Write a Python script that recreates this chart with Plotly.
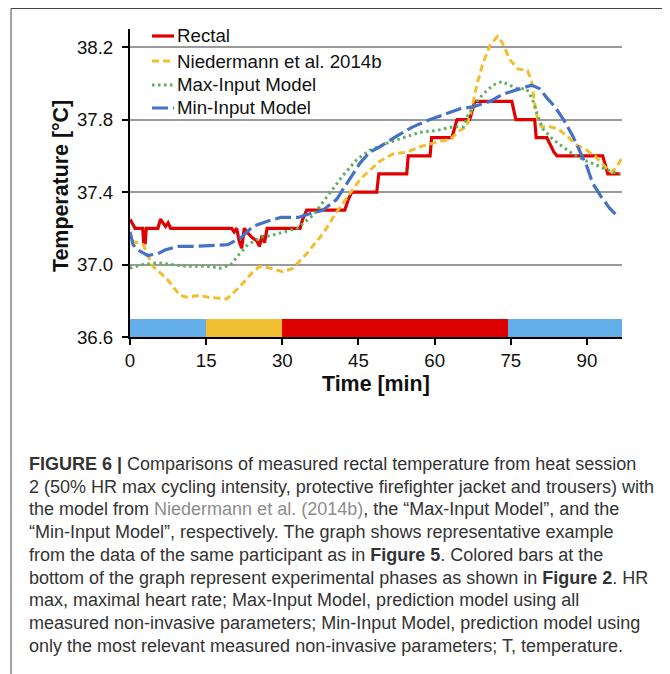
import plotly.graph_objects as go

# ---------------- data ----------------
rectal_t = [0, 0.5, 1, 2.5, 2.7, 3.0, 3.2, 5.5, 6.0, 6.5, 7.0, 7.5, 8.0, 20.0, 20.5, 21.0, 21.5, 22.0, 22.5, 23.0,
            24.0, 25.0, 25.5, 26.0, 26.5, 27.0, 33.5, 34.0, 34.8, 42.3, 43.0, 43.7, 48.6, 49.0, 54.5, 54.8, 59.1, 59.4,
            63.4, 64.4, 66.9, 67.9, 75.2, 76.0, 79.7, 80.0, 82.1, 83.5, 84.1, 93.1, 94.1, 96.6]
rectal_v = [37.25, 37.22, 37.20, 37.20, 37.12, 37.12, 37.20, 37.20, 37.25, 37.23, 37.21, 37.23, 37.20, 37.20, 37.18,
            37.20, 37.13, 37.09, 37.20, 37.18, 37.15, 37.13, 37.10, 37.16, 37.12, 37.20, 37.20, 37.25, 37.30, 37.30,
            37.36, 37.40, 37.40, 37.50, 37.50, 37.60, 37.60, 37.70, 37.70, 37.80, 37.80, 37.90, 37.90, 37.80, 37.80,
            37.70, 37.70, 37.62, 37.60, 37.60, 37.50, 37.50]

nied_t = [0.3, 2.6, 4.5, 7.3, 9.8, 11.2, 13.8, 15.2, 19.1, 21.7, 24.2, 25.6, 27.6, 30.1, 32.1, 34.8, 36.5, 38.0, 40.7,
          43.3, 45.3, 47.2, 49.2, 51.8, 54.5, 57.1, 59.6, 61.0, 63.0, 65.0, 66.3, 67.3, 68.3, 69.5, 70.9, 72.4, 73.4,
          74.8, 76.4, 78.3, 79.1, 79.7, 80.3, 81.1, 82.7, 84.3, 86.0, 88.0, 90.0, 91.9, 93.5, 94.9, 95.9, 96.9]
nied_v = [37.13, 37.11, 36.99, 36.92, 36.83, 36.82, 36.83, 36.82, 36.81, 36.88, 36.96, 36.99, 36.98, 36.96, 36.98,
          37.06, 37.12, 37.17, 37.29, 37.39, 37.47, 37.52, 37.57, 37.61, 37.62, 37.65, 37.67, 37.68, 37.69, 37.74,
          37.76, 37.86, 37.99, 38.11, 38.21, 38.26, 38.22, 38.13, 38.08, 38.07, 38.01, 37.89, 37.80, 37.76, 37.76,
          37.75, 37.71, 37.66, 37.63, 37.59, 37.54, 37.51, 37.54, 37.59]

maxin_t = [0, 2.6, 5.3, 8.5, 11.2, 15.2, 17.9, 19.9, 21.3, 23.2, 25.8, 27.8, 30.5, 32.9, 36.0, 39.4, 41.9, 44.7, 47.2,
           50.6, 53.7, 57.1, 60.4, 63.6, 65.6, 66.5, 68.3, 69.5, 71.5, 73.2, 74.8, 76.4, 78.1, 79.3, 80.3, 81.3, 83.3,
           85.2, 87.2, 90.0, 92.5, 95.1, 96.5]
maxin_v = [36.98, 37.00, 37.01, 37.00, 36.99, 36.99, 36.98, 37.00, 37.05, 37.11, 37.15, 37.16, 37.18, 37.20, 37.27,
           37.40, 37.49, 37.58, 37.63, 37.67, 37.70, 37.73, 37.74, 37.76, 37.76, 37.82, 37.90, 37.94, 37.99, 38.01,
           37.99, 37.97, 37.97, 37.91, 37.82, 37.75, 37.69, 37.65, 37.61, 37.57, 37.54, 37.51, 37.50]

minin_t = [0, 0.6, 1.6, 3.5, 5.5, 6.9, 9.4, 12.8, 19.3, 21.9, 24.2, 27.2, 29.7, 33.1, 35.4, 38.0, 40.7, 42.7, 45.3,
           47.2, 49.2, 52.6, 55.7, 59.1, 63.0, 65.0, 67.5, 70.9, 73.4, 76.8, 79.1, 80.7, 82.1, 83.7, 85.6, 87.2, 88.6,
           90.0, 91.1, 92.9, 94.5, 95.9]
minin_v = [37.18, 37.11, 37.08, 37.05, 37.06, 37.08, 37.10, 37.10, 37.11, 37.15, 37.21, 37.24, 37.26, 37.26, 37.28,
           37.30, 37.36, 37.45, 37.56, 37.62, 37.65, 37.71, 37.76, 37.80, 37.84, 37.86, 37.87, 37.90, 37.94, 37.97,
           37.99, 37.97, 37.92, 37.87, 37.79, 37.71, 37.63, 37.54, 37.45, 37.37, 37.31, 37.27]

phase_start = [0, 15, 30, 74.5]
phase_end = [15, 30, 74.5, 96.9]
phase_colors = ["#64AEEA", "#F0BE32", "#DD0000", "#64AEEA"]
phase_level = 36.65
phase_thickness = 0.1

series_names = ["Rectal", "Niedermann et al. 2014b", "Max-Input Model", "Min-Input Model"]
series_colors = ["#E00000", "#F2BE30", "#5CB05C", "#4472C4"]

x_ticks = [0, 15, 30, 45, 60, 75, 90]
y_ticks = [36.6, 37.0, 37.4, 37.8, 38.2]

x_title = "Time [min]"
y_title = "Temperature [°C]"

caption_lines = [
    "<b>FIGURE 6 |</b> Comparisons of measured rectal temperature from heat session",
    "2 (50% HR max cycling intensity, protective firefighter jacket and trousers) with",
    "the model from <span style='color:#8c8c8c'>Niedermann et al. (2014b)</span>, the \u201cMax-Input Model\u201d, and the",
    "\u201cMin-Input Model\u201d, respectively. The graph shows representative example",
    "from the data of the same participant as in <b>Figure 5</b>. Colored bars at the",
    "bottom of the graph represent experimental phases as shown in <b>Figure 2</b>. HR",
    "max, maximal heart rate; Max-Input Model, prediction model using all",
    "measured non-invasive parameters; Min-Input Model, prediction model using",
    "only the most relevant measured non-invasive parameters; T, temperature.",
]

# ---------------- layout geometry ----------------
# The page body has an 8px margin, so the figure is drawn 8px smaller and
# all positions below are given in page pixels.
OFF = 8
W, H = 670 - OFF, 674 - OFF
PLOT_L, PLOT_R, PLOT_T, PLOT_B = 130, 622, 29, 337          # page pixels
L, R, T = PLOT_L - OFF, W - (PLOT_R - OFF), PLOT_T - OFF
B = H - (PLOT_B - OFF)
PW, PH = PLOT_R - PLOT_L, PLOT_B - PLOT_T


def px(x):
    return (x - PLOT_L) / PW


def py(y):
    return (PLOT_B - y) / PH


FONT = "Liberation Sans, Arial, Helvetica, sans-serif"
INK = "#111111"

fig = go.Figure()

# phase bars
fig.add_trace(go.Bar(
    orientation="h",
    y=[phase_level] * len(phase_start),
    x=[e - s for s, e in zip(phase_start, phase_end)],
    base=phase_start,
    width=phase_thickness,
    marker=dict(color=phase_colors, line=dict(width=0)),
    showlegend=False, hoverinfo="skip",
))

dashes = ["solid", "7px,4px", "2.5px,3.5px", "16px,5px"]
widths = [3.2, 3, 3, 3.2]
series = [(rectal_t, rectal_v), (nied_t, nied_v), (maxin_t, maxin_v), (minin_t, minin_v)]
for (t, v), name, col, d, w in zip(series, series_names, series_colors, dashes, widths):
    fig.add_trace(go.Scatter(x=t, y=v, mode="lines", name=name, showlegend=False,
                             line=dict(color=col, width=w, dash=d)))

shapes = []
annotations = []

# manual legend
leg_rows = [36, 61, 85, 108]
for yy, name, col, d, w in zip(leg_rows, series_names, series_colors, dashes, widths):
    shapes.append(dict(type="line", xref="paper", yref="paper", x0=px(152), x1=px(174), y0=py(yy), y1=py(yy),
                       line=dict(color=col, width=w, dash=d)))
    annotations.append(dict(xref="paper", yref="paper", x=px(175), y=py(yy), text=name, showarrow=False,
                            xanchor="left", yanchor="middle", font=dict(family=FONT, size=18.7, color=INK)))

# axis titles
annotations.append(dict(xref="paper", yref="paper", x=px(376), y=py(384), text="<b>%s</b>" % x_title,
                        showarrow=False, xanchor="center", yanchor="middle",
                        font=dict(family=FONT, size=21.4, color=INK)))
annotations.append(dict(xref="paper", yref="paper", x=px(61), y=py(186), text="<b>%s</b>" % y_title,
                        showarrow=False, xanchor="center", yanchor="middle", textangle=-90,
                        font=dict(family=FONT, size=21.4, color=INK)))

# outer frame
shapes.append(dict(type="rect", xref="paper", yref="paper", x0=px(11), x1=px(668), y0=py(700), y1=py(8.5),
                   line=dict(color="#444444", width=1), fillcolor="rgba(0,0,0,0)", layer="below"))

# caption
cap_top = 464
cap_step = 22.7
for i, line in enumerate(caption_lines):
    annotations.append(dict(xref="paper", yref="paper", x=px(27), y=py(cap_top + i * cap_step), text=line,
                            showarrow=False, xanchor="left", yanchor="middle",
                            font=dict(family=FONT, size=18, color="#333333")))

fig.update_layout(
    width=W, height=H,
    margin=dict(l=L, r=R, t=T, b=B, pad=0, autoexpand=False),
    paper_bgcolor="white", plot_bgcolor="white",
    shapes=shapes, annotations=annotations,
    font=dict(family=FONT, color=INK),
    bargap=0,
)
fig.update_xaxes(
    range=[0, 96.9], tickvals=x_ticks, ticktext=[str(v) for v in x_ticks],
    showgrid=False, zeroline=False, showline=True, linecolor="black", linewidth=2,
    ticks="outside", ticklen=6, tickwidth=2, tickcolor="black", automargin=False,
    tickfont=dict(family=FONT, size=18.7, color=INK),
)
fig.update_yaxes(
    range=[36.6, 38.3], tickvals=y_ticks, ticktext=["%.1f" % v for v in y_ticks],
    showgrid=True, gridcolor="#9a9a9a", gridwidth=1.5, zeroline=False,
    showline=True, linecolor="black", linewidth=2, automargin=False,
    ticks="outside", ticklen=6, tickwidth=2, tickcolor="black", ticklabelstandoff=5,
    tickfont=dict(family=FONT, size=18.7, color=INK),
)

fig.write_html("out.html")
